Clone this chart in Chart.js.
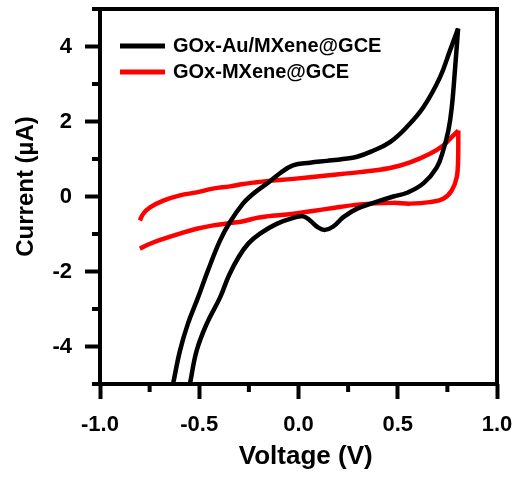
<!DOCTYPE html>
<html>
<head>
<meta charset="utf-8">
<script src="https://cdn.jsdelivr.net/npm/chart.js@4.4.1/dist/chart.umd.min.js"></script>
<style>
  html, body { margin: 0; padding: 0; background: #fff; }
  #wrap { width: 521px; height: 477px; }
</style>
</head>
<body>
<div id="wrap"><canvas id="cv" width="521" height="477"></canvas></div>
<script>
// series names and colours
var seriesNames = ['GOx-Au/MXene@GCE', 'GOx-MXene@GCE'];
var seriesColors = ['#000000', '#ff0000'];

// GOx-Au/MXene@GCE : forward sweep (left -> right), then return sweep (right -> left)
var auFwdV = [-0.632, -0.597, -0.557, -0.506, -0.456, -0.395, -0.345, -0.280, -0.240, -0.200, -0.150, -0.093, -0.028, 0.058, 0.144, 0.224, 0.295, 0.375, 0.461, 0.545, 0.629, 0.712, 0.763, 0.804];
var auFwdI = [-5.0, -4.11, -3.39, -2.69, -1.97, -1.17, -0.68, -0.19, 0.02, 0.19, 0.38, 0.62, 0.83, 0.90, 0.95, 1.00, 1.06, 1.22, 1.45, 1.85, 2.38, 3.17, 3.89, 4.48];
var auRevV = [0.804, 0.788, 0.772, 0.755, 0.729, 0.696, 0.629, 0.547, 0.478, 0.377, 0.293, 0.226, 0.175, 0.134, 0.100, 0.058, 0.024, -0.026, -0.110, -0.194, -0.252, -0.300, -0.350, -0.395, -0.462, -0.513, -0.547];
var auRevI = [4.48, 3.36, 2.37, 1.76, 1.23, 0.77, 0.35, 0.10, 0.00, -0.17, -0.33, -0.55, -0.80, -0.89, -0.83, -0.64, -0.53, -0.57, -0.73, -0.99, -1.25, -1.60, -2.10, -2.69, -3.39, -4.11, -5.0];

// GOx-MXene@GCE
var mxFwdV = [-0.799, -0.782, -0.748, -0.681, -0.597, -0.513, -0.431, -0.345, -0.295, -0.211, -0.160, -0.026, 0.142, 0.310, 0.461, 0.562, 0.662, 0.729, 0.780, 0.805];
var mxFwdI = [-0.64, -0.46, -0.29, -0.11, 0.03, 0.11, 0.21, 0.27, 0.32, 0.38, 0.41, 0.47, 0.56, 0.65, 0.76, 0.91, 1.14, 1.36, 1.63, 1.76];
var mxRevV = [0.805, 0.804, 0.797, 0.772, 0.729, 0.662, 0.562, 0.478, 0.310, 0.142, -0.026, -0.160, -0.211, -0.278, -0.345, -0.429, -0.513, -0.597, -0.681, -0.748, -0.799];
var mxRevI = [1.76, 0.96, 0.51, 0.16, -0.06, -0.15, -0.19, -0.17, -0.21, -0.33, -0.46, -0.53, -0.57, -0.66, -0.71, -0.77, -0.86, -0.99, -1.13, -1.26, -1.39];

// axes
var xTicks = [-1, -0.5, 0, 0.5, 1];
var xTickLabels = ['-1.0', '-0.5', '0.0', '0.5', '1.0'];
var xMinorTicks = [-0.75, -0.25, 0.25, 0.75];
var yTicks = [-4, -2, 0, 2, 4];
var yTickLabels = ['-4', '-2', '0', '2', '4'];
var yMinorTicks = [-5, -3, -1, 1, 3, 5];

var FONT = "'Liberation Sans', Arial, sans-serif";

function toPoints(vs, is) {
	return vs.map(function(v, i) { return {x: v, y: is[i]}; });
}

function branch(vs, is, k) {
	return {
		data: toPoints(vs, is),
		borderColor: seriesColors[k],
		borderWidth: 4.5,
		showLine: true,
		pointRadius: 0,
		tension: 0.4,
		fill: false,
		clip: 0
	};
}

//frame, minor ticks and legend
var framePlugin = {
	id: 'frame',
	afterDraw: function(chart) {
		var ctx = chart.ctx;
		var a = chart.chartArea;
		var xs = chart.scales.x, ys = chart.scales.y;
		ctx.save();
		ctx.strokeStyle = '#000';
		ctx.lineWidth = 4;
		ctx.strokeRect(a.left, a.top, a.right - a.left, a.bottom - a.top);

		ctx.beginPath();
		xMinorTicks.forEach(function(v) {
			var px = xs.getPixelForValue(v);
			ctx.moveTo(px, a.bottom);
			ctx.lineTo(px, a.bottom + 8);
		});
		yMinorTicks.forEach(function(v) {
			var py = ys.getPixelForValue(v);
			ctx.moveTo(a.left, py);
			ctx.lineTo(a.left - 8, py);
		});
		ctx.stroke();

		ctx.font = 'bold 20px ' + FONT;
		ctx.textBaseline = 'middle';
		ctx.fillStyle = '#000';
		seriesNames.forEach(function(name, i) {
			var y = 46 + i * 26;
			ctx.strokeStyle = seriesColors[i];
			ctx.lineWidth = 5;
			ctx.beginPath();
			ctx.moveTo(120, y);
			ctx.lineTo(165, y);
			ctx.stroke();
			ctx.fillText(name, 173, y);
		});
		ctx.restore();
	}
};

new Chart(document.getElementById('cv'), {
	type: 'scatter',
	data: {
		datasets: [
			branch(auFwdV, auFwdI, 0),
			branch(auRevV, auRevI, 0),
			branch(mxFwdV, mxFwdI, 1),
			branch(mxRevV, mxRevI, 1)
		]
	},
	options: {
		responsive: false,
		animation: false,
		layout: { padding: { left: 0, top: 9, right: 24, bottom: 0 } },
		plugins: { legend: { display: false }, tooltip: { enabled: false } },
		scales: {
			x: {
				type: 'linear',
				min: -1, max: 1,
				afterBuildTicks: function(s) { s.ticks = xTicks.map(function(v) { return {value: v}; }); },
				afterFit: function(s) { s.height = 93; s.paddingLeft = 0; s.paddingRight = 0; },
				border: { display: false },
				grid: { drawOnChartArea: false, drawTicks: true, tickLength: 15, tickWidth: 4, tickColor: '#000' },
				ticks: {
					autoSkip: false, maxRotation: 0, padding: 13,
					color: '#000',
					font: { family: FONT, size: 22, weight: 'bold' },
					callback: function(v, i) { return xTickLabels[i]; }
				},
				title: {
					display: true, text: '  Voltage (V)', color: '#000',
					font: { family: FONT, size: 26, weight: 'bold' },
					padding: { top: 0, bottom: 5 }
				}
			},
			y: {
				type: 'linear',
				min: -5, max: 5,
				afterBuildTicks: function(s) { s.ticks = yTicks.map(function(v) { return {value: v}; }); },
				afterFit: function(s) { s.width = 100; s.paddingTop = 0; s.paddingBottom = 0; },
				border: { display: false },
				grid: { drawOnChartArea: false, drawTicks: true, tickLength: 15, tickWidth: 4, tickColor: '#000' },
				ticks: {
					padding: 13,
					color: '#000',
					font: { family: FONT, size: 22, weight: 'bold' },
					callback: function(v, i) { return yTickLabels[i]; }
				},
				title: {
					display: true, text: '   Current (\u00b5A)', color: '#000',
					font: { family: FONT, size: 24, weight: 'bold' },
					padding: { top: 12, bottom: 0 }
				}
			}
		}
	},
	plugins: [framePlugin]
});
</script>
</body>
</html>
